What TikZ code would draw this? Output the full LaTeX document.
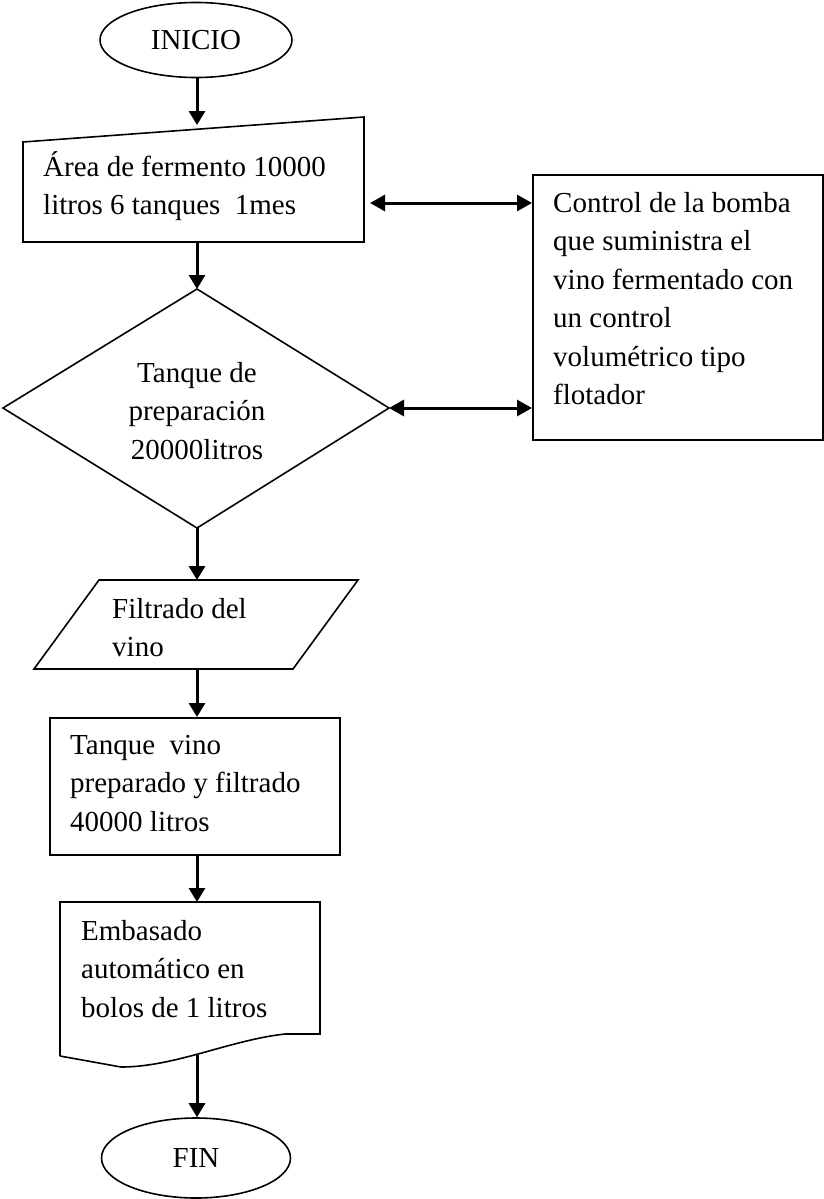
\documentclass[tikz,border=0pt]{standalone}
\usepackage{fontspec}
\setmainfont{Liberation Serif}
\usetikzlibrary{arrows.meta,shapes.geometric}
\begin{document}
\begin{tikzpicture}[x=1pt,y=-1pt,
  font=\fontsize{29}{38.5}\selectfont,
  outline/.style={line width=1.6pt,line join=miter},
  arr/.style={line width=3pt,-{Triangle[length=14pt,width=16pt]}},
  darr/.style={line width=3pt,{Triangle[length=15pt,width=16pt]}-{Triangle[length=15pt,width=16pt]}},
  txt/.style={inner sep=0pt,anchor=base west},
  ctxt/.style={inner sep=0pt,anchor=base}]
\useasboundingbox (0,0) rectangle (823,1199);
% INICIO
\node[draw,ellipse,outline,minimum width=192pt,minimum height=75pt,inner sep=0pt] (ini) at (196,40) {INICIO};
% Manual input: fermento
\coordinate (fA) at (23,142);
\coordinate (fB) at (364,117);
\coordinate (fC) at (364,242);
\coordinate (fD) at (23,242);
\draw[outline] (fA) -- (fB) -- (fC) -- (fD) -- cycle;
\node[txt] (fertxt) at (43,176) {\begin{tabular}[t]{@{}l@{}}Área de fermento 10000\\litros 6 tanques~ 1mes\end{tabular}};
\coordinate (ferN) at (197,125);
\coordinate (ferS) at (197,242);
\coordinate (ferE) at (370,203);
% Diamond
\coordinate (dN) at (197,289);
\coordinate (dW) at (3,408);
\coordinate (dE) at (389,408);
\coordinate (dS) at (197,528);
\draw[outline] (dN) -- (dE) -- (dS) -- (dW) -- cycle;
\node[ctxt] (dtxt) at (197,382) {\begin{tabular}[t]{@{}c@{}}Tanque de\\preparación\\20000litros\end{tabular}};
% Control box
\node[draw,outline,anchor=north west,minimum width=290pt,minimum height=265pt,inner sep=0pt] (ctl) at (532,174) {};
\node[txt] (ctltxt) at (553,212) {\begin{tabular}[t]{@{}l@{}}Control de la bomba\\que suministra el\\vino fermentado con\\un control\\volumétrico tipo\\flotador\end{tabular}};
\coordinate (cW1) at (532,203);
\coordinate (cW2) at (532,408);
% Parallelogram
\coordinate (pA) at (99,580);
\coordinate (pB) at (358,580);
\coordinate (pC) at (293,669);
\coordinate (pD) at (34,669);
\draw[outline] (pA) -- (pB) -- (pC) -- (pD) -- cycle;
\node[txt] (ptxt) at (112,618) {\begin{tabular}[t]{@{}l@{}}Filtrado del\\vino\end{tabular}};
\coordinate (pN) at (197,580);
\coordinate (pS) at (197,669);
% Rectangle
\node[draw,outline,anchor=north west,minimum width=290pt,minimum height=137pt,inner sep=0pt] (tq) at (49,717) {};
\node[txt] (tqtxt) at (70,754) {\begin{tabular}[t]{@{}l@{}}Tanque~ vino\\preparado y filtrado\\40000 litros\end{tabular}};
% Document
\coordinate (eA) at (60,902);
\coordinate (eB) at (320,902);
\coordinate (eC) at (320,1034);
\coordinate (eD) at (60,1056);
\draw[outline] (eD) -- (eA) -- (eB) -- (eC) -- (285,1034)
  .. controls (230,1040) and (175,1067) .. (121,1067) -- (eD);
\node[txt] (etxt) at (81,940) {\begin{tabular}[t]{@{}l@{}}Embasado\\automático en\\bolos de 1 litros\end{tabular}};
\coordinate (eN) at (197,902);
\coordinate (eS) at (197,1055);
% FIN
\node[draw,ellipse,outline,minimum width=189pt,minimum height=80pt,inner sep=0pt] (fin) at (196,1158) {FIN};
% Connectors
\draw[arr] (ini.south -| ferN) -- (ferN);
\draw[arr] (ferS) -- (dN);
\draw[arr] (dS) -- (pN);
\draw[arr] (pS) -- (tq.north -| pS);
\draw[arr] (tq.south -| pS) -- (eN);
\draw[arr] (eS) -- (fin.north -| eS);
\draw[darr] (ferE) -- (cW1);
\draw[darr] (dE) -- (cW2);
\end{tikzpicture}
\end{document}
